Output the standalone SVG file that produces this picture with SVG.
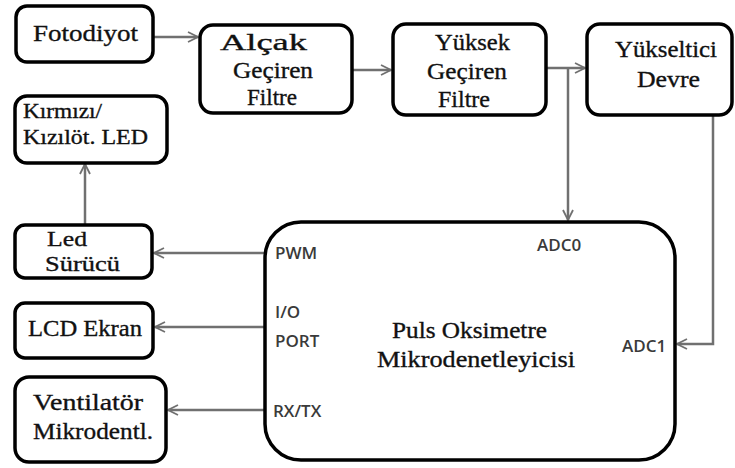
<svg xmlns="http://www.w3.org/2000/svg" width="735" height="468" viewBox="0 0 735 468">
<style>
.box{fill:#fff;stroke:#000;stroke-width:3.5}
.t{font-family:"Liberation Serif","Times New Roman",serif;font-size:24px;fill:#111;stroke:#111;stroke-width:0.35}
.sm{font-size:22px}
.s{font-family:"Open Sans","Liberation Sans",sans-serif;font-size:17px;font-weight:600;fill:#3a3a3a}
.c{fill:none;stroke:#707070;stroke-width:2.5}
</style>
<defs>
<marker id="a" viewBox="0 0 12 12" refX="11" refY="6" markerWidth="12" markerHeight="12" markerUnits="userSpaceOnUse" orient="auto">
<path d="M1,1 L11,6 L1,11" fill="none" stroke="#707070" stroke-width="1.8"/>
</marker>
</defs>
<rect width="735" height="468" fill="#fff"/>
<g id="connectors">
<path class="c" d="M153,37 H198" marker-end="url(#a)"/>
<path class="c" d="M352,70 H391" marker-end="url(#a)"/>
<path class="c" d="M546,68 H585" marker-end="url(#a)"/>
<path class="c" d="M568,68 V220" marker-end="url(#a)"/>
<path class="c" d="M713,115 V344 H677" marker-end="url(#a)"/>
<path class="c" d="M85,224 V164" marker-end="url(#a)"/>
<path class="c" d="M265,253 H154" marker-end="url(#a)"/>
<path class="c" d="M265,327 H155" marker-end="url(#a)"/>
<path class="c" d="M265,410 H168" marker-end="url(#a)"/>
</g>
<g id="fotodiyot">
<rect class="box" x="16" y="6" width="137" height="56" rx="11"/>
<text class="t" x="33" y="41" textLength="105" lengthAdjust="spacingAndGlyphs">Fotodiyot</text>
</g>
<g id="alcak">
<rect class="box" x="200" y="25" width="152" height="88" rx="13"/>
<text class="t" x="220" y="50" textLength="87" lengthAdjust="spacingAndGlyphs">Alçak</text>
<text class="t" x="233" y="78" textLength="80" lengthAdjust="spacingAndGlyphs">Geçiren</text>
<text class="t" x="247" y="105" textLength="50" lengthAdjust="spacingAndGlyphs">Filtre</text>
</g>
<g id="yuksek">
<rect class="box" x="393" y="24" width="153" height="91" rx="13"/>
<text class="t" x="435" y="50" textLength="75" lengthAdjust="spacingAndGlyphs">Yüksek</text>
<text class="t" x="427" y="79" textLength="80" lengthAdjust="spacingAndGlyphs">Geçiren</text>
<text class="t" x="438" y="107" textLength="52" lengthAdjust="spacingAndGlyphs">Filtre</text>
</g>
<g id="yukseltici">
<rect class="box" x="587" y="24" width="145" height="91" rx="13"/>
<text class="t" x="615" y="57" textLength="102" lengthAdjust="spacingAndGlyphs">Yükseltici</text>
<text class="t" x="637" y="87" textLength="63" lengthAdjust="spacingAndGlyphs">Devre</text>
</g>
<g id="kirmizi">
<rect class="box" x="15" y="96" width="152" height="67" rx="12"/>
<text class="t sm" x="23" y="118" textLength="79" lengthAdjust="spacingAndGlyphs">Kırmızı/</text>
<text class="t sm" x="23" y="144" textLength="125" lengthAdjust="spacingAndGlyphs">Kızılöt. LED</text>
</g>
<g id="ledsurucu">
<rect class="box" x="15" y="225" width="137" height="53" rx="10"/>
<text class="t sm" x="47" y="246" textLength="40" lengthAdjust="spacingAndGlyphs">Led</text>
<text class="t sm" x="45" y="271" textLength="75" lengthAdjust="spacingAndGlyphs">Sürücü</text>
</g>
<g id="lcd">
<rect class="box" x="15" y="303" width="138" height="55" rx="10"/>
<text class="t" x="28" y="336" textLength="114" lengthAdjust="spacingAndGlyphs">LCD Ekran</text>
</g>
<g id="ventilator">
<rect class="box" x="15" y="377" width="151" height="85" rx="14"/>
<text class="t" x="33" y="410" textLength="110" lengthAdjust="spacingAndGlyphs">Ventilatör</text>
<text class="t" x="33" y="439" textLength="120" lengthAdjust="spacingAndGlyphs">Mikrodentl.</text>
</g>
<g id="mcu">
<rect class="box" x="265" y="222" width="410" height="238" rx="36"/>
<text class="t" x="392" y="338" textLength="155" lengthAdjust="spacingAndGlyphs">Puls Oksimetre</text>
<text class="t" x="377" y="367" textLength="198" lengthAdjust="spacingAndGlyphs">Mikrodenetleyicisi</text>
<text class="s" x="275" y="259">PWM</text>
<text class="s" x="275" y="318">I/O</text>
<text class="s" x="275" y="347">PORT</text>
<text class="s" x="273" y="417">RX/TX</text>
<text class="s" x="537" y="251">ADC0</text>
<text class="s" x="622" y="352">ADC1</text>
</g>
</svg>
